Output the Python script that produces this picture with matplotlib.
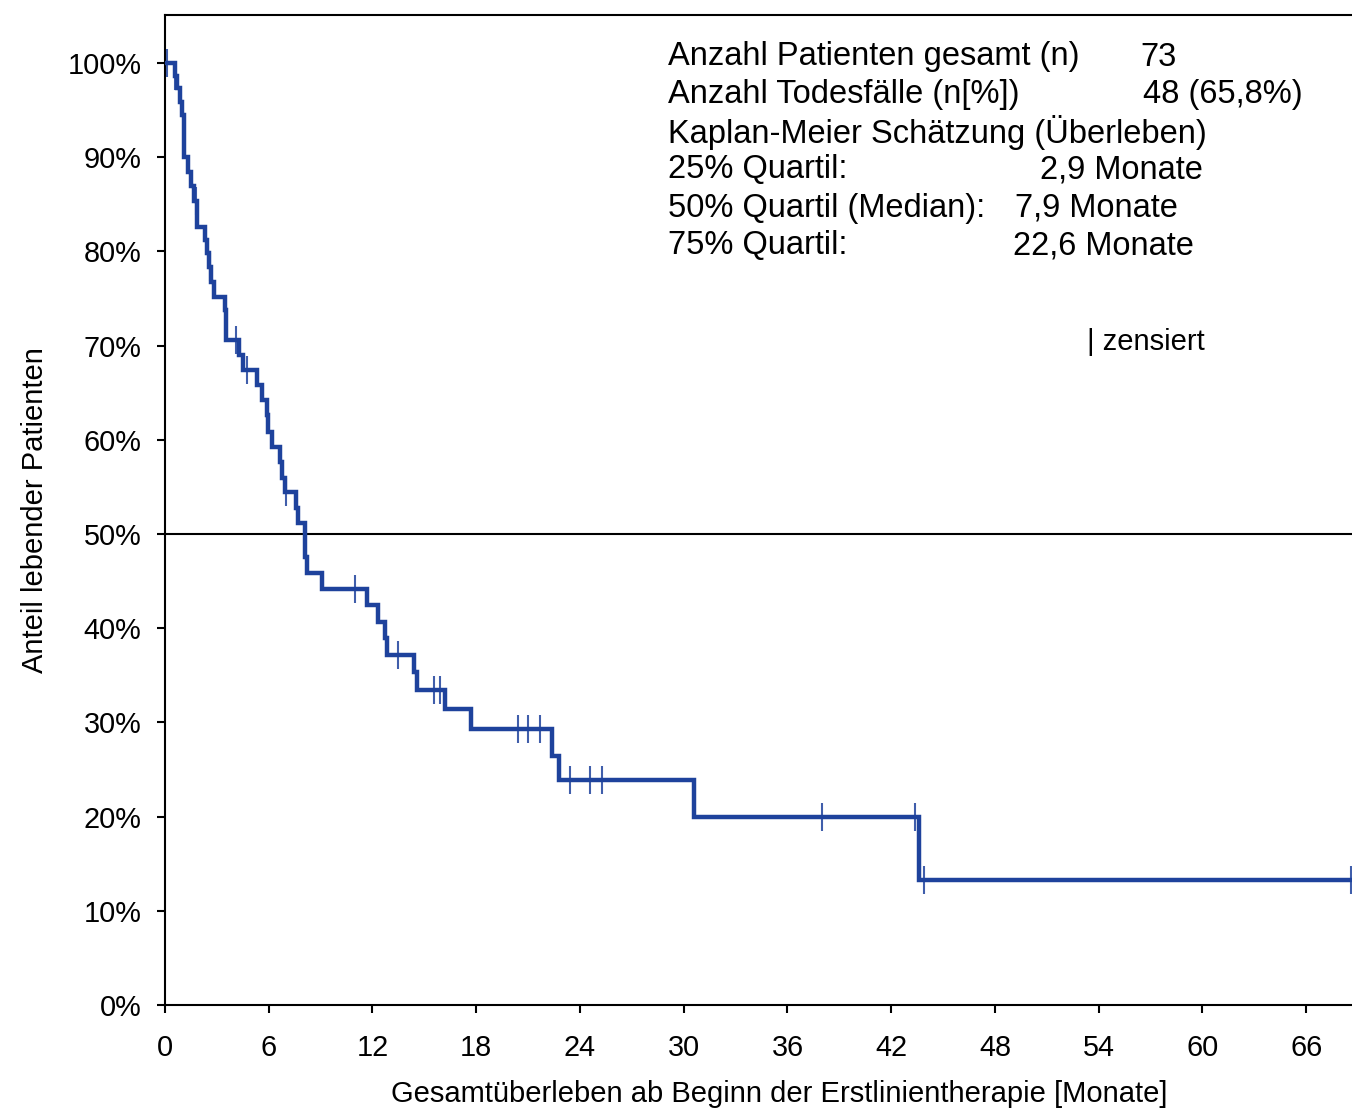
import numpy as np
import matplotlib
matplotlib.use("Agg")
import matplotlib.pyplot as plt

# ---- data ----
event_times = [0.0, 0.6, 0.72, 0.87, 1.0, 1.1, 1.35, 1.5, 1.65, 1.85, 2.3, 2.45, 2.55, 2.65,
               2.85, 3.45, 3.55, 4.29, 4.53, 5.3, 5.6, 5.88, 5.96, 6.17, 6.65, 6.75, 6.94,
               7.6, 7.7, 8.1, 8.2, 9.06, 11.7, 12.3, 12.75, 12.85, 14.4, 14.55, 16.2, 17.7,
               22.4, 22.8, 30.6, 43.6]
survival = [100.0, 98.6, 97.3, 95.9, 94.5, 90.0, 88.4, 86.9, 85.4, 82.6, 81.2, 79.8, 78.3, 76.8,
            75.2, 73.8, 70.6, 69.0, 67.4, 65.8, 64.2, 62.6, 60.8, 59.2, 57.6, 56.0, 54.5,
            52.8, 51.2, 47.6, 45.9, 44.2, 42.5, 40.7, 39.0, 37.2, 35.3, 33.4, 31.4, 29.3,
            26.4, 23.9, 20.0, 13.3]
censor_times = [0.12, 0.6, 1.82, 2.6, 4.1, 4.75, 7.0, 11.0, 13.5, 15.55, 15.9, 20.4, 21.0, 21.7,
                23.4, 24.6, 25.3, 38.0, 43.4, 43.9, 68.6]
end_time = 68.6

x_ticks = [0, 6, 12, 18, 24, 30, 36, 42, 48, 54, 60, 66]
y_ticks = [0, 10, 20, 30, 40, 50, 60, 70, 80, 90, 100]

info_labels = ["Anzahl Patienten gesamt (n)", "Anzahl Todesfälle (n[%])",
               "Kaplan-Meier Schätzung (Überleben)", "25% Quartil:",
               "50% Quartil (Median):", "75% Quartil:"]
info_values = ["73", "48 (65,8%)", "", "2,9 Monate", "7,9 Monate", "22,6 Monate"]

# ---- styling ----
plt.rcParams['font.family'] = ['Liberation Sans', 'DejaVu Sans']
W, H = 1352, 1110
fig = plt.figure(figsize=(W / 100, H / 100), dpi=100)

def fx(px):
    return px / W

def fy(py):
    return 1 - py / H

ax = fig.add_axes([fx(165), fy(1005), 1 - fx(165), fy(15) - fy(1005)])
blue = '#1E429C'
fs_tick = 20.8
fs_lab = 21.0
fs_info = 23.5
fs_cens = 21.0

ts = list(event_times) + [end_time]
ss = list(survival) + [survival[-1]]
ax.step(ts, ss, where='post', color=blue, lw=3.2, solid_joinstyle='miter', zorder=3)

idx = np.searchsorted(np.array(event_times), np.array(censor_times), side='right') - 1
cy = np.array(survival)[idx]
ax.plot(censor_times, cy, linestyle='none', marker='|', markersize=20,
        markeredgewidth=1.5, color=blue, alpha=0.85, zorder=4, clip_on=True)

ax.axhline(50, color='black', lw=1.5, zorder=2)

ax.set_xlim(0, 68.65)
ax.set_ylim(0, 105.1)
ax.set_xticks(x_ticks)
ax.set_yticks(y_ticks)
ax.set_yticklabels([f"{v}%" for v in y_ticks])
ax.tick_params(axis='both', direction='out', length=6, width=1.5, labelsize=fs_tick, colors='black')
ax.tick_params(axis='x', pad=15)
ax.tick_params(axis='y', pad=11)
for s in ['left', 'bottom', 'top']:
    ax.spines[s].set_linewidth(1.5)
ax.spines['right'].set_visible(False)

fig.text(fx(35), fy(510), "Anteil lebender Patienten", rotation=90, ha='center', va='center', fontsize=fs_lab)
fig.text(fx(779), fy(1094), "Gesamtüberleben ab Beginn der Erstlinientherapie [Monate]",
         ha='center', va='center', fontsize=fs_lab)

label_y = [57, 95, 132, 170, 208, 246]
value_x = [1140, 1143, None, 1040, 1015, 1013]
for lab, val, yy, vx in zip(info_labels, info_values, label_y, value_x):
    fig.text(fx(668), fy(yy), lab, ha='left', va='center', fontsize=fs_info)
    if val:
        fig.text(fx(vx), fy(yy), val, ha='left', va='center', fontsize=fs_info)
fig.text(fx(1087), fy(342), "| zensiert", ha='left', va='center', fontsize=fs_cens)

fig.savefig("out.png", dpi=100)
